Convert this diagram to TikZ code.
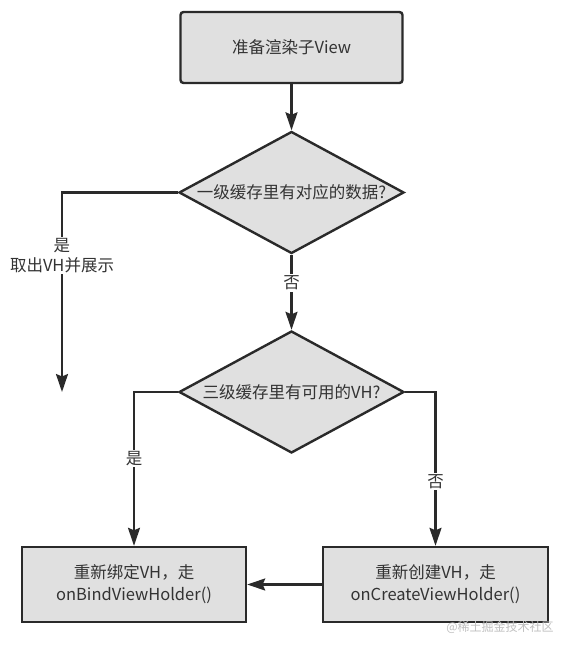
\documentclass[tikz,border=0pt]{standalone}
\usepackage{fontspec}
\setmainfont{Noto Sans CJK SC}
\usetikzlibrary{arrows.meta, positioning, shapes.geometric}
\definecolor{boxfill}{HTML}{E0E0E0}
\definecolor{edgegray}{HTML}{2A2A2A}
\definecolor{textgray}{HTML}{333333}

\begin{document}
\begin{tikzpicture}[x=1pt,y=-1pt,on grid,
    every node/.style={text=textgray,font=\fontsize{16.5}{22}\selectfont}]
  \tikzstyle{stepbox}=[rectangle,draw=edgegray,line width=2.4pt,fill=boxfill,minimum width=224pt,minimum height=75pt,align=center]
  \tikzstyle{decide}=[diamond,draw=edgegray,line width=2.4pt,fill=boxfill,minimum width=225pt,minimum height=122pt,inner sep=0pt]
  \tikzstyle{flow}=[draw=edgegray,line width=2.2pt,-{Stealth[length=18pt,width=12pt,inset=2.5pt]}]
  \tikzstyle{tag}=[fill=white,inner sep=1.5pt,align=center,font=\fontsize{16.5}{20}\selectfont]
  \useasboundingbox (0,0) rectangle (570,650);

  % Steps
  \node[stepbox, rounded corners=3pt, minimum width=222pt, minimum height=71pt] (prepare) at (291.5,47.5) {准备渲染子View};
  \node[decide] (cache1) [below=145pt of prepare] {\makebox[0pt]{一级缓存里有对应的数据?}};
  \node[decide] (cache3) [below=199.5pt of cache1] {\makebox[0pt]{三级缓存里有可用的VH?}};
  \node[stepbox] (bind) [below left=192.5pt and 157.5pt of cache3] {重新绑定VH，走\\onBindViewHolder()};
  \node[stepbox, minimum width=225pt] (create) [below right=192.5pt and 144pt of cache3] {重新创建VH，走\\onCreateViewHolder()};
  \coordinate (reuse) at (62,392);
  \node[text=black!25, font=\fontsize{12}{14}\selectfont] (mark) at (500,627) {@稀土掘金技术社区};

  % Transitions
  \path[flow] (prepare) -- (cache1);
  \path[flow] (cache1.west) -| node[tag, pos=0.658] {是\\取出VH并展示} (reuse);
  \path[flow] (cache1) -- node[tag, pos=0.377] {否} (cache3);
  \path[flow] (cache3.west) -| node[tag, pos=0.716] {是} (bind);
  \path[flow] (cache3.east) -| node[tag, pos=0.79] {否} (create);
  \path[flow] (create) -- (bind);
\end{tikzpicture}
\end{document}
